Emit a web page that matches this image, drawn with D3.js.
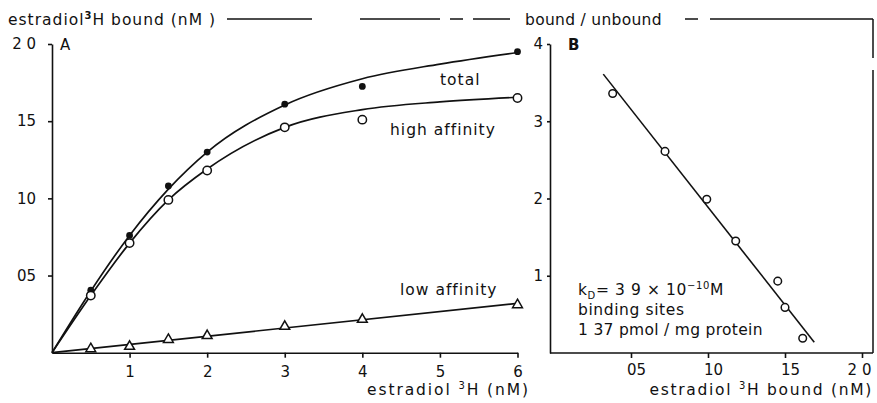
<!DOCTYPE html>
<html>
<head>
<meta charset="utf-8">
<script src="https://cdn.jsdelivr.net/npm/d3@7/dist/d3.min.js"></script>
<style>
  html, body { margin: 0; padding: 0; background: #fff; }
  svg { display: block; }
  text { font-family: "DejaVu Sans", "Liberation Sans", sans-serif; fill: #111; }
  .lbl { font-size: 15.5px; letter-spacing: 1px; }
  .axis path, .axis line { stroke: #111; stroke-width: 1.6; }
  .axis text { font-size: 15px; font-family: "DejaVu Sans", sans-serif; fill: #111; }
</style>
</head>
<body>
<svg id="chart" width="877" height="403"></svg>
<script>
// Panel A: estradiol binding vs. free estradiol concentration (nM)
const concA = [0.5, 1, 1.5, 2, 3, 4, 6];
const totalBound = [0.405, 0.76, 1.08, 1.30, 1.61, 1.725, 1.95];
const highBound  = [0.37, 0.71, 0.99, 1.18, 1.46, 1.51, 1.65];
const lowBound   = [0.025, 0.04, 0.085, 0.11, 0.17, 0.215, 0.31];

// fitted saturation curves
const curveConc  = [0, 0.5, 1, 1.5, 2, 3, 4, 5, 6];
const totalCurve = [0, 0.40, 0.76, 1.06, 1.30, 1.605, 1.775, 1.87, 1.945];
const highCurve  = [0, 0.37, 0.71, 0.99, 1.19, 1.46, 1.575, 1.625, 1.655];
const lowLineX   = [0, 6];
const lowLineY   = [0, 0.32];

// Panel B: Scatchard plot (bound vs. bound/unbound)
const boundB = [0.381, 0.721, 0.992, 1.18, 1.453, 1.50, 1.615];
const ratioB = [3.36, 2.61, 1.99, 1.45, 0.93, 0.59, 0.19];
const fitX = [0.32, 1.69];
const fitY = [3.61, 0.14];

// tick values and labels
const yTicksA = [0.5, 1, 1.5, 2];
const yTickLabelsA = ["05", "10", "15", "2 0"];
const xTicksA = [1, 2, 3, 4, 5, 6];
const xTickLabelsA = ["1", "2", "3", "4", "5", "6"];
const yTicksB = [1, 2, 3, 4];
const yTickLabelsB = ["1", "2", "3", "4"];
const xTicksB = [0.5, 1, 1.5, 2];
const xTickLabelsB = ["05", "10", "15", "2 0"];

const svg = d3.select("#chart");
const ink = "#111";

const xA = d3.scaleLinear().domain([0, 6]).range([52, 517.5]);
const yA = d3.scaleLinear().domain([0, 2]).range([352.7, 44]);
const xB = d3.scaleLinear().domain([0, 2]).range([554, 862]);
const yB = d3.scaleLinear().domain([0, 4]).range([353, 44]);

// ---- frame across the top and down the right side ----
const frame = svg.append("g").attr("stroke", ink).attr("stroke-width", 1.5).attr("fill", "none");
[[227, 312], [360, 440], [450, 463], [473, 510], [685, 698], [710, 873]].forEach(([a, b]) => {
  frame.append("line").attr("x1", a).attr("x2", b).attr("y1", 19).attr("y2", 19);
});
frame.append("line").attr("x1", 873).attr("x2", 873).attr("y1", 19).attr("y2", 58);
frame.append("line").attr("x1", 873).attr("x2", 873).attr("y1", 70).attr("y2", 353);

// ---- titles in the frame ----
const t1 = svg.append("text").attr("class", "lbl").attr("x", 8).attr("y", 25);
t1.append("tspan").text("estradiol");
t1.append("tspan").attr("font-size", 10).attr("dy", -6).attr("font-weight", "bold").text("3");
t1.append("tspan").attr("dy", 6).text("H bound (nM )");

svg.append("text").attr("class", "lbl").attr("x", 525).attr("y", 25)
  .style("letter-spacing", "0.3px").text("bound / unbound");

// ---- Panel A axes ----
svg.append("g").attr("class", "axis").attr("transform", "translate(52,0)")
  .call(d3.axisLeft(yA).tickValues(yTicksA).tickFormat((d, i) => yTickLabelsA[i])
    .tickSize(4).tickSizeOuter(0).tickPadding(12));
svg.append("g").attr("class", "axis").attr("transform", "translate(0,352.7)")
  .call(d3.axisBottom(xA).tickValues(xTicksA).tickFormat((d, i) => xTickLabelsA[i])
    .tickSize(5).tickSizeOuter(0).tickPadding(9));

svg.append("text").attr("x", 60).attr("y", 50).attr("font-size", 15).text("A");

const tA = svg.append("text").attr("class", "lbl").attr("x", 530).attr("y", 395)
  .attr("text-anchor", "end").style("letter-spacing", "1.9px");
tA.append("tspan").text("estradiol ");
tA.append("tspan").attr("font-size", 10).attr("dy", -6).text("3");
tA.append("tspan").attr("dy", 6).text("H  (nM)");

// ---- Panel A curves ----
const lineA = d3.line().curve(d3.curveMonotoneX).x(d => xA(d[0])).y(d => yA(d[1]));
const plotA = svg.append("g").attr("fill", "none").attr("stroke", ink).attr("stroke-width", 1.7);
plotA.append("path").attr("d", lineA(curveConc.map((c, i) => [c, totalCurve[i]])));
plotA.append("path").attr("d", lineA(curveConc.map((c, i) => [c, highCurve[i]])));
plotA.append("path").attr("d", d3.line().x(d => xA(d[0])).y(d => yA(d[1]))(lowLineX.map((c, i) => [c, lowLineY[i]])));

// markers
svg.append("g").selectAll("circle").data(concA).join("circle")
  .attr("cx", d => xA(d)).attr("cy", (d, i) => yA(totalBound[i])).attr("r", 3.4).attr("fill", ink);
svg.append("g").selectAll("circle").data(concA).join("circle")
  .attr("cx", d => xA(d)).attr("cy", (d, i) => yA(highBound[i])).attr("r", 4.2)
  .attr("fill", "#fff").attr("stroke", ink).attr("stroke-width", 1.5);
const tri = d3.symbol().type(d3.symbolTriangle).size(42);
svg.append("g").selectAll("path").data(concA).join("path")
  .attr("d", tri).attr("transform", (d, i) => `translate(${xA(d)},${yA(lowBound[i])})`)
  .attr("fill", "#fff").attr("stroke", ink).attr("stroke-width", 1.5);

svg.append("text").attr("class", "lbl").attr("x", 440).attr("y", 85).text("total");
svg.append("text").attr("class", "lbl").attr("x", 390).attr("y", 135).text("high affinity");
svg.append("text").attr("class", "lbl").attr("x", 400).attr("y", 295).text("low affinity");

// ---- Panel B axes ----
svg.append("g").attr("class", "axis").attr("transform", "translate(550,0)")
  .call(d3.axisLeft(yB).tickValues(yTicksB).tickFormat((d, i) => yTickLabelsB[i])
    .tickSize(3).tickSizeOuter(0).tickPadding(4));
const axB = svg.append("g").attr("class", "axis").attr("transform", "translate(0,353)")
  .call(d3.axisBottom(xB).tickValues(xTicksB).tickFormat((d, i) => xTickLabelsB[i])
    .tickSize(5).tickSizeOuter(0).tickPadding(6));
axB.select(".domain").remove();
axB.selectAll(".tick text").attr("dx", (d, i) => i < 3 ? 5 : -3);
axB.append("line").attr("x1", 550).attr("x2", 873).attr("y1", 0).attr("y2", 0)
  .attr("stroke", ink).attr("stroke-width", 1.6);

svg.append("text").attr("x", 568).attr("y", 50).attr("font-size", 15).attr("font-weight", "bold").text("B");

const tB = svg.append("text").attr("class", "lbl").attr("x", 873).attr("y", 395)
  .attr("text-anchor", "end").style("letter-spacing", "1.7px");
tB.append("tspan").text("estradiol ");
tB.append("tspan").attr("font-size", 10).attr("dy", -6).text("3");
tB.append("tspan").attr("dy", 6).text("H bound  (nM)");

// ---- Panel B fit and points ----
svg.append("path").attr("fill", "none").attr("stroke", ink).attr("stroke-width", 1.6)
  .attr("d", d3.line().x(d => xB(d[0])).y(d => yB(d[1]))(fitX.map((v, i) => [v, fitY[i]])));
svg.append("g").selectAll("circle").data(boundB).join("circle")
  .attr("cx", d => xB(d)).attr("cy", (d, i) => yB(ratioB[i])).attr("r", 3.8)
  .attr("fill", "#fff").attr("stroke", ink).attr("stroke-width", 1.5);

// ---- Panel B annotation ----
const k = svg.append("text").attr("class", "lbl").attr("x", 578).attr("y", 295).style("letter-spacing", "0.6px");
k.append("tspan").text("k");
k.append("tspan").attr("font-size", 10).attr("dy", 4).text("D");
k.append("tspan").attr("dy", -4).text("= 3 9  × 10");
k.append("tspan").attr("font-size", 10).attr("dy", -6).text("−10");
k.append("tspan").attr("dy", 6).text("M");
svg.append("text").attr("class", "lbl").attr("x", 578).attr("y", 315).style("letter-spacing", "0.6px").text("binding sites");
svg.append("text").attr("class", "lbl").attr("x", 578).attr("y", 335).style("letter-spacing", "0.3px").text("1 37 pmol / mg protein");
</script>
</body>
</html>
